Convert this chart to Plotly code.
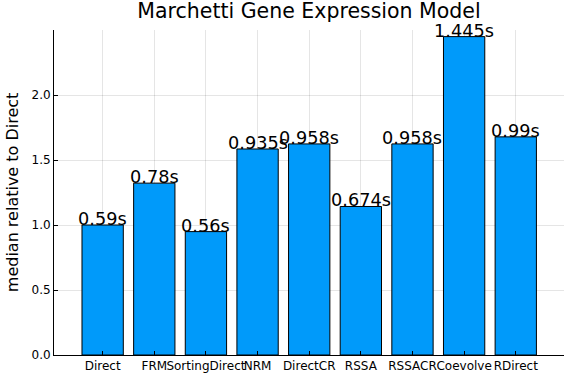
import plotly.graph_objects as go

categories = ["Direct", "FRM", "SortingDirect", "NRM", "DirectCR", "RSSA", "RSSACR", "Coevolve", "RDirect"]
median_times = [0.59, 0.78, 0.56, 0.935, 0.958, 0.674, 0.958, 1.445, 0.99]
time_labels = ["0.59s", "0.78s", "0.56s", "0.935s", "0.958s", "0.674s", "0.958s", "1.445s", "0.99s"]
y_ticks = [0.0, 0.5, 1.0, 1.5, 2.0]
y_tick_labels = ["0.0", "0.5", "1.0", "1.5", "2.0"]

relative = [t / median_times[0] for t in median_times]
xs = list(range(len(categories)))

FONT = "DejaVu Sans"
W, H = 576, 384
L, R, T, B = 54.3, 11.7, 30, 28.7
pw = W - L - R

fig = go.Figure()
fig.add_trace(go.Bar(
    x=xs, y=relative, width=0.8,
    marker=dict(color="#009AFA", line=dict(color="black", width=1)),
    showlegend=False, hoverinfo="skip",
))
for x, y, t in zip(xs, relative, time_labels):
    fig.add_annotation(x=x, y=y, text=t, showarrow=False, xanchor="center", yanchor="middle",
                       yshift=6, font=dict(size=17.7, color="black", family=FONT))

# y-axis title
fig.add_annotation(xref="paper", yref="paper", x=(13 - L) / pw, y=0.5, text="median relative to Direct",
                   textangle=-90, showarrow=False, xanchor="center", yanchor="middle",
                   font=dict(size=16, color="black", family=FONT))

fig.update_layout(
    width=W, height=H,
    margin=dict(l=L, r=R, t=T, b=B, pad=0, autoexpand=False),
    plot_bgcolor="white", paper_bgcolor="white",
    font=dict(family=FONT, color="black"),
    title=dict(text="Marchetti Gene Expression Model", xref="paper", x=0.5, xanchor="center",
               yref="container", y=1 - 10.5 / H, yanchor="middle",
               font=dict(size=20.5, color="black", family=FONT)),
)
fig.update_xaxes(
    tickmode="array", tickvals=xs, ticktext=categories, range=[-0.942, 8.934],
    tickangle=0,
    showgrid=True, gridcolor="rgba(0,0,0,0.1)", gridwidth=0.5,
    showline=True, linecolor="black", linewidth=1, mirror=False,
    tickfont=dict(size=12, color="black", family=FONT), ticks="inside", ticklen=4, tickcolor="black",
    zeroline=False, automargin=False,
)
fig.update_yaxes(
    range=[0, 2.5], tickmode="array", tickvals=y_ticks, ticktext=y_tick_labels,
    showgrid=True, gridcolor="rgba(0,0,0,0.1)", gridwidth=0.5,
    showline=True, linecolor="black", linewidth=1, zeroline=False,
    tickfont=dict(size=12, color="black", family=FONT), ticks="inside", ticklen=4, tickcolor="black",
    automargin=False,
)
fig.write_html("out.html", config={"displayModeBar": False},
               post_script="document.body.style.margin='0';document.body.style.overflow='hidden';")
